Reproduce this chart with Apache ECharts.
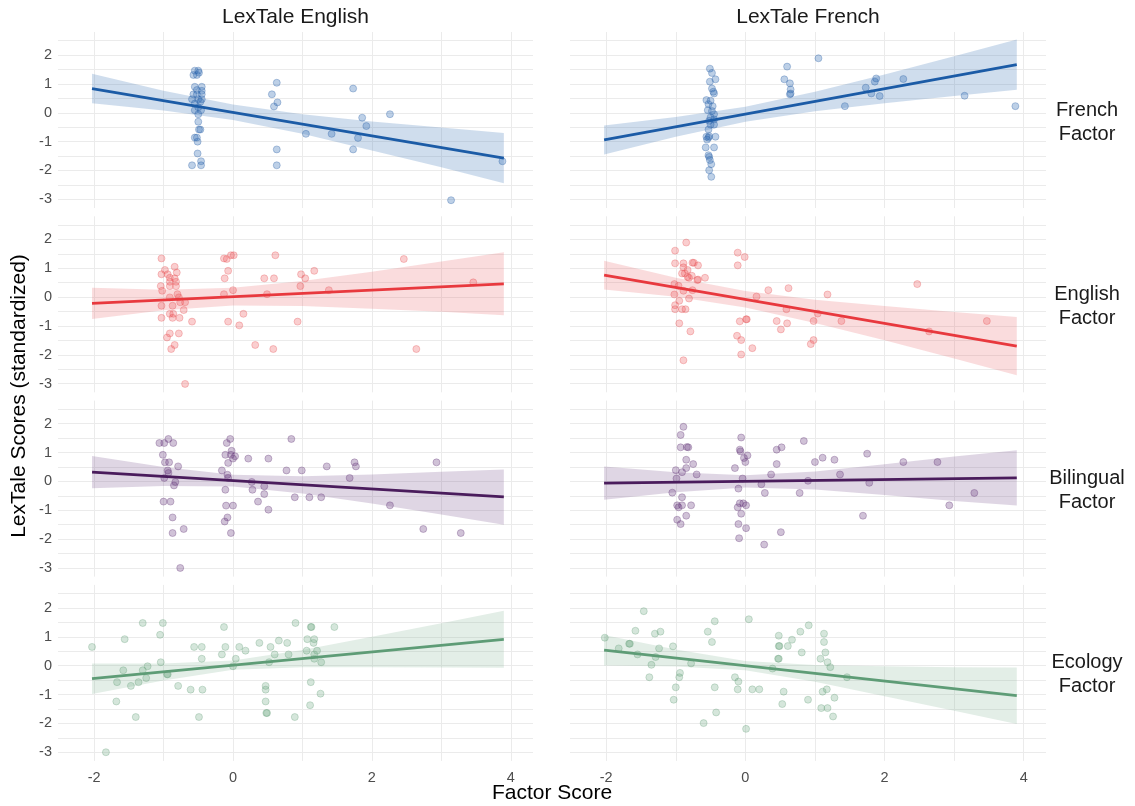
<!DOCTYPE html>
<html>
<head>
<meta charset="utf-8">
<script src="https://cdn.jsdelivr.net/npm/echarts@6/dist/echarts.min.js"></script>
<style>
html,body{margin:0;padding:0;background:#fff;}
#chart{width:1135px;height:806px;}
</style>
</head>
<body>
<div id="chart"></div>
<script>
// ---- labels ----
const columnLabels = ['LexTale English', 'LexTale French'];
const rowLabels = ['French\nFactor', 'English\nFactor', 'Bilingual\nFactor', 'Ecology\nFactor'];
const xTitle = 'Factor Score';
const yTitle = 'LexTale Scores (standardized)';
const xTickLabels = [-2, 0, 2, 4];
const xGridValues = [-2, -1, 0, 1, 2, 3, 4];
const yTickLabels = [-3, -2, -1, 0, 1, 2];
const yGridValues = [-3, -2.5, -2, -1.5, -1, -0.5, 0, 0.5, 1, 1.5, 2, 2.5];

// ---- fitted line end points (x) and confidence band sample x ----
const lineX = [-2.03, 3.9];
const bandX = [-2.03, -1, 0, 1, 2, 3, 3.9];

// ---- Row 1: French Factor ----
const frenchEnglish = [[-0.55,1.46],[-0.50,1.46],[-0.57,1.31],[-0.52,1.31],[-0.49,1.39],
[-0.55,0.90],[-0.45,0.90],[-0.52,0.79],[-0.45,0.76],[-0.57,0.64],[-0.52,0.64],[-0.45,0.64],
[-0.59,0.47],[-0.50,0.47],[-0.45,0.47],[-0.55,0.32],[-0.47,0.38],[-0.55,0.09],[-0.46,0.09],[-0.50,0.19],
[-0.50,-0.05],[-0.50,-0.31],[-0.47,-0.58],[-0.49,-0.58],[-0.55,-0.86],[-0.52,-0.86],[-0.51,-1.00],
[-0.51,-1.41],[-0.46,-1.68],[-0.59,-1.82],[-0.46,-1.82],
[0.63,1.04],[0.56,0.64],[0.64,0.36],[0.59,0.22],[0.63,-1.27],[0.63,-1.82],
[1.05,-0.73],[1.42,-0.73],[1.73,0.84],[1.73,-1.27],[1.80,-0.87],[1.86,-0.17],[1.92,-0.46],
[2.26,-0.05],[3.14,-3.03],[3.88,-1.68]];
const frenchEnglishLine = [0.84, -1.57];
const frenchEnglishLo = [0.33, 0.08, -0.25, -0.73, -1.31, -1.89, -2.44];
const frenchEnglishHi = [1.35, 0.76, 0.29, -0.05, -0.30, -0.51, -0.70];

const frenchFrench = [[-0.51,1.53],[-0.48,1.38],[-0.51,1.08],[-0.43,1.16],[-0.48,0.84],[-0.46,0.73],[-0.45,0.67],
[-0.56,0.44],[-0.50,0.42],[-0.53,0.30],[-0.47,0.23],[-0.54,0.09],[-0.48,0.06],[-0.45,-0.05],
[-0.50,-0.16],[-0.52,-0.28],[-0.45,-0.23],[-0.50,-0.41],[-0.45,-0.41],[-0.53,-0.58],
[-0.56,-0.83],[-0.53,-0.86],[-0.52,-0.81],[-0.43,-0.83],[-0.55,-0.93],[-0.57,-1.20],[-0.45,-1.20],
[-0.53,-1.47],[-0.52,-1.53],[-0.51,-1.64],[-0.49,-1.78],[-0.52,-1.99],[-0.49,-2.22],
[0.60,1.60],[0.56,1.16],[0.64,1.02],[0.65,0.81],[0.65,0.67],[0.64,0.64],[1.05,1.89],[1.43,0.23],
[1.73,0.87],[1.81,0.67],[1.86,1.08],[1.88,1.19],[1.93,0.58],[2.27,1.17],[3.15,0.59],[3.88,0.23]];
const frenchFrenchLine = [-0.94, 1.67];
const frenchFrenchLo = [-1.45, -0.83, -0.31, 0.05, 0.33, 0.58, 0.80];
const frenchFrenchHi = [-0.44, -0.15, 0.21, 0.73, 1.33, 1.96, 2.54];

// ---- Row 2: English Factor ----
const englishEnglish = [[-1.03,1.34],[-0.98,0.94],[-0.84,1.05],[-0.81,0.85],[-1.03,0.79],[-0.94,0.79],[-0.91,0.67],[-0.84,0.65],
[-0.91,0.53],[-0.82,0.53],[-1.04,0.38],[-0.91,0.38],[-0.82,0.38],[-1.02,0.22],[-0.80,0.10],
[-0.91,-0.01],[-0.78,-0.01],[-0.76,-0.18],[-0.69,-0.18],[-1.03,-0.30],[-0.87,-0.30],[-0.71,-0.45],
[-0.91,-0.58],[-0.86,-0.58],[-1.03,-0.72],[-0.87,-0.72],[-0.77,-0.72],[-0.59,-0.85],
[-0.91,-1.26],[-0.78,-1.26],[-0.95,-1.40],[-0.84,-1.66],[-0.89,-1.80],[-0.69,-3.01],
[-0.13,1.34],[-0.09,1.32],[-0.03,1.45],[0.01,1.45],[-0.07,0.91],[-0.12,0.65],[0.00,0.24],[-0.13,0.10],
[0.15,-0.58],[-0.07,-0.85],[0.09,-0.98],[0.32,-1.66],[0.58,-1.80],[0.45,0.65],[0.59,0.65],[0.61,1.45],
[0.49,0.10],[0.98,0.79],[1.04,0.65],[1.17,0.91],[0.97,0.38],[1.38,0.24],[0.93,-0.85],
[2.46,1.32],[2.64,-1.80],[3.46,0.51]];
const englishEnglishLine = [-0.22, 0.46];
const englishEnglishLo = [-0.76, -0.46, -0.29, -0.31, -0.40, -0.51, -0.63];
const englishEnglishHi = [0.32, 0.25, 0.32, 0.56, 0.88, 1.23, 1.55];

const englishFrench = [[-1.01,1.61],[-0.85,1.89],[-1.01,1.17],[-0.89,1.17],[-0.89,1.03],[-0.83,0.94],[-0.76,1.19],[-0.74,1.19],[-0.68,1.10],
[-0.91,0.82],[-0.87,0.82],[-0.83,0.70],[-0.81,0.67],[-0.77,0.74],[-0.69,0.59],[-0.68,0.61],[-0.58,0.67],
[-1.02,0.45],[-0.96,0.39],[-0.89,0.22],[-0.76,0.24],[-1.02,0.09],[-0.81,-0.05],[-0.95,-0.13],
[-1.01,-0.28],[-1.01,-0.42],[-0.91,-0.42],[-0.86,-0.42],[-0.95,-0.91],[-0.79,-1.19],[-0.89,-2.19],
[-0.11,1.54],[-0.01,1.39],[-0.11,1.10],[0.16,0.02],[0.33,0.24],[0.62,0.31],[0.59,-0.42],[0.02,-0.77],[0.01,-0.77],
[-0.08,-0.84],[0.45,-0.83],[0.60,-0.91],[0.51,-1.12],[-0.12,-1.34],[-0.06,-1.49],[-0.06,-1.99],[0.10,-1.77],
[1.04,-0.57],[0.98,-0.83],[1.18,0.09],[1.38,-0.83],[0.98,-1.49],[0.94,-1.63],
[2.47,0.45],[2.64,-1.19],[3.47,-0.83]];
const englishFrenchLine = [0.76, -1.70];
const englishFrenchLo = [0.26, 0.01, -0.36, -0.90, -1.50, -2.13, -2.71];
const englishFrenchHi = [1.26, 0.67, 0.21, -0.09, -0.31, -0.52, -0.69];

// ---- Row 3: Bilingual Factor ----
const bilingualEnglish = [[-1.06,1.33],[-0.99,1.33],[-0.86,1.33],[-0.93,1.47],[-1.01,0.92],[-0.98,0.66],[-0.92,0.66],[-0.79,0.52],
[-0.94,0.38],[-0.93,0.29],[-0.99,0.12],[-0.83,-0.02],[-0.85,-0.14],[-1.00,-0.70],[-0.90,-0.70],
[-0.87,-1.25],[-0.71,-1.65],[-0.87,-1.79],[-0.76,-3.00],
[-0.04,1.47],[-0.09,1.33],[-0.02,1.06],[-0.11,0.92],[-0.03,0.92],[0.03,0.87],[0.00,0.79],[-0.07,0.64],
[-0.16,0.38],[-0.08,0.23],[-0.07,0.12],[-0.11,-0.29],[-0.10,-0.84],[0.00,-0.84],[-0.08,-1.25],[-0.12,-1.39],[-0.03,-1.79],
[0.22,0.79],[0.51,0.79],[0.27,-0.02],[0.28,-0.29],[0.45,-0.17],[0.45,-0.44],[0.36,-0.70],[0.51,-0.98],
[0.84,1.47],[0.77,0.38],[0.99,0.38],[0.89,-0.55],[1.10,-0.55],[1.27,-0.55],[1.35,0.52],[1.68,0.12],
[1.75,0.66],[1.77,0.52],[2.26,-0.83],[2.74,-1.65],[2.93,0.66],[3.28,-1.79]];
const bilingualEnglishLine = [0.32, -0.54];
const bilingualEnglishLo = [-0.24, -0.16, -0.18, -0.42, -0.77, -1.15, -1.50];
const bilingualEnglishHi = [0.88, 0.50, 0.23, 0.18, 0.24, 0.33, 0.41];

const bilingualFrench = [[-0.89,1.89],[-0.93,1.61],[-0.93,1.18],[-0.84,1.19],[-0.82,1.18],[-0.85,0.75],[-0.75,0.60],[-1.00,0.39],
[-0.91,0.32],[-0.85,0.46],[-0.70,0.24],[-0.99,0.10],[-1.05,-0.39],[-0.91,-0.55],[-0.98,-0.83],[-0.96,-0.90],
[-0.91,-0.83],[-0.78,-0.83],[-0.85,-1.19],[-0.98,-1.33],[-0.93,-1.48],
[-0.06,1.52],[-0.08,1.10],[-0.07,1.04],[0.03,0.90],[-0.02,0.81],[0.00,0.67],[-0.15,0.46],[-0.04,0.10],
[-0.10,-0.25],[-0.08,-0.76],[-0.03,-0.76],[0.01,-0.83],[-0.11,-0.90],[-0.06,-1.12],[-0.10,-1.48],[0.01,-1.62],[-0.09,-1.97],
[0.23,-0.10],[0.28,-0.40],[0.27,-2.19],[0.37,0.24],[0.45,1.10],[0.52,1.18],[0.45,0.60],[0.51,-1.76],
[0.78,-0.40],[0.84,1.40],[0.90,0.02],[1.00,0.67],[1.11,0.82],[1.28,0.75],[1.36,0.24],[1.69,-1.19],
[1.75,0.96],[1.78,-0.05],[2.27,0.67],[2.76,0.67],[2.93,-0.83],[3.29,-0.40]];
const bilingualFrenchLine = [-0.06, 0.12];
const bilingualFrenchLo = [-0.64, -0.38, -0.21, -0.28, -0.47, -0.68, -0.84];
const bilingualFrenchHi = [0.52, 0.32, 0.21, 0.34, 0.59, 0.86, 1.08];

// ---- Row 4: Ecology Factor ----
const ecologyEnglish = [[-2.03,0.65],[-1.83,-3.00],[-1.68,-1.24],[-1.67,-0.57],[-1.58,-0.16],[-1.56,0.92],[-1.47,-0.70],[-1.40,-1.78],
[-1.36,-0.57],[-1.30,-0.16],[-1.30,1.48],[-1.25,-0.43],[-1.23,-0.02],[-1.05,1.07],[-1.04,0.12],[-1.01,1.48],
[-0.95,-0.30],[-0.94,-0.30],[-0.79,-0.70],[-0.61,-0.83],[-0.56,0.65],[-0.45,0.65],[-0.45,0.24],[-0.44,-0.83],[-0.49,-1.78],
[-0.16,0.39],[-0.13,1.34],[-0.11,0.65],[0.00,-0.02],[0.04,0.24],[0.09,0.65],[0.18,0.52],[0.38,0.79],[0.54,0.65],
[0.52,0.12],[0.60,0.39],[0.66,0.87],[0.78,0.79],[0.80,0.39],[0.47,-0.70],[0.47,-0.83],[0.47,-1.24],[0.48,-1.64],[0.49,-1.64],
[0.89,-1.78],[0.90,1.48],[1.06,0.52],[1.07,0.92],[1.12,1.34],[1.13,1.34],[1.16,0.79],[1.17,0.92],[1.17,0.24],[1.17,0.39],
[1.21,0.52],[1.27,0.12],[1.12,-0.57],[1.26,-0.97],[1.11,-1.37],[1.46,1.34]];
const ecologyEnglishLine = [-0.45, 0.91];
const ecologyEnglishLo = [-0.98, -0.51, -0.14, -0.05, -0.05, -0.06, -0.07];
const ecologyEnglishHi = [0.08, 0.08, 0.18, 0.54, 1.00, 1.47, 1.90];

const ecologyFrench = [[-2.02,0.97],[-1.82,0.60],[-1.67,0.76],[-1.66,0.76],[-1.58,1.21],[-1.55,0.39],[-1.46,1.89],[-1.38,-0.40],
[-1.35,0.03],[-1.30,1.11],[-1.29,0.30],[-1.24,0.60],[-1.22,1.18],[-1.04,0.67],[-1.03,-1.18],[-1.00,-0.75],
[-0.95,-0.40],[-0.94,-0.25],[-0.78,0.08],[-0.60,-1.99],[-0.54,1.18],[-0.48,0.82],[-0.44,1.54],[-0.44,-0.75],[-0.42,-1.62],
[-0.15,-0.40],[-0.10,-0.55],[-0.11,-0.82],[0.01,-2.19],[0.05,1.61],[0.10,-0.82],[0.20,-0.82],[0.39,-0.10],
[0.48,1.04],[0.48,0.68],[0.49,0.68],[0.61,0.68],[0.67,0.90],[0.47,0.24],[0.48,0.24],[0.55,-0.90],[0.53,-1.33],
[0.79,1.18],[0.81,0.46],[0.91,1.40],[0.90,-1.18],[1.08,0.24],[1.13,1.11],[1.13,0.82],[1.15,0.46],[1.18,0.12],
[1.22,-0.05],[1.11,-0.90],[1.17,-0.82],[1.28,-1.11],[1.09,-1.47],[1.18,-1.47],[1.26,-1.76],[1.46,-0.40]];
const ecologyFrenchLine = [0.54, -1.04];
const ecologyFrenchLo = [0.01, -0.03, -0.16, -0.56, -1.06, -1.56, -2.02];
const ecologyFrenchHi = [1.06, 0.56, 0.16, 0.02, -0.02, -0.05, -0.06];

// ---- styling ----
const rowColors = [
  {line:'#1b5ba6', point:'rgba(50,110,180,0.40)', pointBorder:'rgba(40,95,165,0.50)', band:'rgba(70,125,185,0.26)'},
  {line:'#e8393e', point:'rgba(238,85,90,0.36)', pointBorder:'rgba(228,70,75,0.45)', band:'rgba(232,95,100,0.22)'},
  {line:'#4a1c5c', point:'rgba(110,65,130,0.40)', pointBorder:'rgba(95,50,115,0.48)', band:'rgba(110,70,130,0.22)'},
  {line:'#5e9c76', point:'rgba(110,170,130,0.36)', pointBorder:'rgba(95,155,115,0.45)', band:'rgba(115,170,135,0.20)'}
];

const panels = [
  [frenchEnglish, frenchEnglishLine, frenchEnglishLo, frenchEnglishHi],
  [frenchFrench, frenchFrenchLine, frenchFrenchLo, frenchFrenchHi],
  [englishEnglish, englishEnglishLine, englishEnglishLo, englishEnglishHi],
  [englishFrench, englishFrenchLine, englishFrenchLo, englishFrenchHi],
  [bilingualEnglish, bilingualEnglishLine, bilingualEnglishLo, bilingualEnglishHi],
  [bilingualFrench, bilingualFrenchLine, bilingualFrenchLo, bilingualFrenchHi],
  [ecologyEnglish, ecologyEnglishLine, ecologyEnglishLo, ecologyEnglishHi],
  [ecologyFrench, ecologyFrenchLine, ecologyFrenchLo, ecologyFrenchHi]
];

const colLeft = [58, 570];
const colWidth = [475, 476];
const rowTop0 = 32, rowStep = 184.3, rowHeight = 176;
const FONT = '"Liberation Sans", Arial, Helvetica, sans-serif';
const gridLine = {show:true, lineStyle:{color:'#ebebeb', width:1}};

const grids = [], xAxes = [], yAxes = [], series = [];
panels.forEach((p, i) => {
  const row = Math.floor(i / 2), col = i % 2;
  const c = rowColors[row];
  const top = rowTop0 + row * rowStep;
  grids.push({left: colLeft[col], width: colWidth[col], top: top, height: rowHeight, containLabel:false});
  xAxes.push({
    gridIndex: i, type:'value', min:-2.52, max:4.32,
    axisLine:{show:false},
    axisTick:{show:false, customValues: xGridValues},
    axisLabel:{show: row === 3, customValues: xTickLabels, color:'#4d4d4d', fontSize:14.5, fontFamily:FONT, margin:10},
    splitLine: gridLine
  });
  yAxes.push({
    gridIndex: i, type:'value', min:-3.3, max:2.8,
    axisLine:{show:false},
    axisTick:{show:false, customValues: yGridValues},
    axisLabel:{show: col === 0, customValues: yTickLabels, color:'#4d4d4d', fontSize:14.5, fontFamily:FONT, margin:6},
    splitLine: gridLine
  });
  const data = p[0], ln = p[1], lo = p[2], hi = p[3];
  series.push({
    type:'custom', xAxisIndex:i, yAxisIndex:i, silent:true, z:1,
    data:[[bandX[0], lo[0]]],
    renderItem: function(params, api) {
      const pts = [];
      for (let k = 0; k < bandX.length; k++) pts.push(api.coord([bandX[k], hi[k]]));
      for (let k = bandX.length - 1; k >= 0; k--) pts.push(api.coord([bandX[k], lo[k]]));
      return {type:'polygon', shape:{points:pts}, style:{fill:c.band}};
    }
  });
  series.push({
    type:'scatter', xAxisIndex:i, yAxisIndex:i, silent:true, z:2,
    symbol:'circle', symbolSize:7, data:data,
    itemStyle:{color:c.point, borderColor:c.pointBorder, borderWidth:0.8}
  });
  series.push({
    type:'line', xAxisIndex:i, yAxisIndex:i, silent:true, z:3,
    showSymbol:false, symbol:'none',
    data:[[lineX[0], ln[0]], [lineX[1], ln[1]]],
    lineStyle:{color:c.line, width:2.8}
  });
});

const graphics = [];
columnLabels.forEach((t, col) => {
  graphics.push({type:'text', x: colLeft[col] + colWidth[col] / 2, y: 17,
    style:{text:t, fill:'#1a1a1a', font:'21px ' + FONT, textAlign:'center', textVerticalAlign:'middle'}});
});
rowLabels.forEach((t, row) => {
  graphics.push({type:'text', x: 1087, y: rowTop0 + row * rowStep + rowHeight / 2 + 2,
    style:{text:t, fill:'#1a1a1a', font:'20px ' + FONT, lineHeight:24, textAlign:'center', textVerticalAlign:'middle'}});
});
graphics.push({type:'text', x: 552, y: 793,
  style:{text:xTitle, fill:'#000', font:'21px ' + FONT, textAlign:'center', textVerticalAlign:'middle'}});
graphics.push({type:'text', x: 19, y: 396, rotation: Math.PI / 2,
  style:{text:yTitle, fill:'#000', font:'21px ' + FONT, textAlign:'center', textVerticalAlign:'middle'}});

const chart = echarts.init(document.getElementById('chart'), null, {renderer:'canvas'});
chart.setOption({
  backgroundColor:'#ffffff',
  animation:false,
  grid: grids,
  xAxis: xAxes,
  yAxis: yAxes,
  series: series,
  graphic: graphics
});
</script>
</body>
</html>
